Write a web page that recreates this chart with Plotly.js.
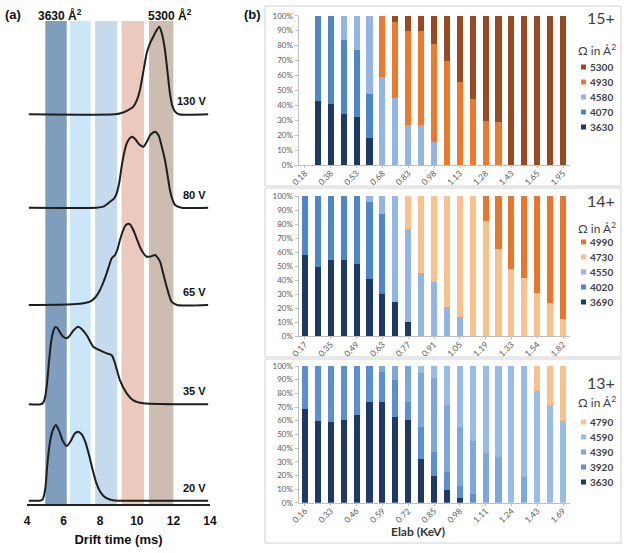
<!DOCTYPE html>
<html><head><meta charset="utf-8">
<script src="https://cdn.plot.ly/plotly-3.0.1.min.js"></script>
<style>html,body{margin:0;padding:0;background:#fff}#chart{width:624px;height:553px}</style>
</head><body><div id="chart"></div>
<script>
// ---------- Panel (a): drift-time profiles ----------
const voltages = ['20 V','35 V','65 V','80 V','130 V'];
const t20 = [4.1,4.7,4.85,5.0,5.1,5.25,5.4,5.58,5.75,5.95,6.17,6.4,6.6,6.8,7.0,7.2,7.4,7.6,7.8,8.0,8.2,8.4,8.7,9.2,13.9];
const h20 = [0,0,1,12,34,58,70,75.7,70,60,54.7,60,67,69,66,58,45,30,17,9,4.5,2,0.5,0,0];
const t35 = [4.1,4.75,4.9,5.0,5.1,5.2,5.3,5.42,5.53,5.65,5.8,5.98,6.17,6.35,6.55,6.8,7.0,7.3,7.62,7.99,8.35,8.63,8.81,9.08,9.45,9.81,10.36,13.9];
const h35 = [0,0,2,8,22,42,60,72,77,76.5,72,67.5,66,69,74,77.6,75,68,57.6,54,51,49,41,24,11,4,1,0];
const t65 = [4.1,6.2,7.0,7.44,7.75,7.99,8.2,8.35,8.5,8.63,8.81,8.95,9.08,9.22,9.36,9.5,9.63,9.81,10.0,10.17,10.35,10.54,10.75,11.0,11.15,11.27,11.45,11.63,11.9,12.2,13.9];
const h65 = [0,0.5,1.5,3.3,8,15,24,31.7,40,46.7,50,56,65,73,79,81,80.7,75,66,58,52,48.3,48.5,50,47,43.3,31,18.3,3.3,0,0];
const t80 = [4.1,7.8,8.17,8.54,8.75,8.9,9.05,9.17,9.3,9.45,9.6,9.72,9.9,10.1,10.36,10.55,10.75,11.0,11.2,11.38,11.54,11.7,11.81,11.95,12.09,12.45,13.9];
const h80 = [0,0,1,6,9,14.4,26,41,54,64.4,69,71,69,64,61,66,73,76,72,60,47.7,30,17.7,8,2.7,0,0];
const t130 = [4.1,8.8,9.2,9.5,9.81,10.0,10.17,10.35,10.54,10.72,10.9,11.05,11.23,11.38,11.54,11.68,11.81,11.95,12.09,12.3,13.9];
const h130 = [0,0,1.5,4,7.7,14,24,42,61,71,77.6,83,87.6,80,64.3,42,21,8,2.6,0,0];
const driftTimes = [t20,t35,t65,t80,t130];
const intensities = [h20,h35,h65,h80,h130];
const bandRanges = [[5.0,6.17],[6.35,7.48],[7.72,8.93],[9.17,10.39],[10.67,12.0]];
const bandLabels = ['3630 Å<sup>2</sup>','5300 Å<sup>2</sup>'];
const driftTicks = [4,6,8,10,12,14];

// ---------- Panel (b): stacked percentage bars ----------
const cat15 = ['0.18','0.28','0.38','0.45','0.53','0.60','0.68','0.75','0.83','0.90','0.98','1.05','1.13','1.20','1.28','1.35','1.43','1.54','1.65','1.80','1.95'];
const tick15 = ['0.18','0.38','0.53','0.68','0.83','0.98','1.13','1.28','1.43','1.65','1.95'];
const names15 = ['3630','4070','4580','4930','5300'];
const s15_3630 = [0,43,40.8,34,32,18,0,0,0,0,0,0,0,0,0,0,0,0,0,0,0];
const s15_4070 = [0,57,59.2,49.7,45,29.5,0,0,0,0,0,0,0,0,0,0,0,0,0,0,0];
const s15_4580 = [0,0,0,16.3,23,52.5,59,44.6,26.8,26.8,15.6,0,0,0,0,0,0,0,0,0,0];
const s15_4930 = [0,0,0,0,0,0,41,51.4,63.2,63.2,65.2,69.6,55.8,44,29.7,28.8,0,0,0,0,0];
const s15_5300 = [0,0,0,0,0,0,0,4,10,10,19.2,30.4,44.2,56,70.3,71.2,100,100,100,100,100];

const cat14 = ['0.17','0.26','0.35','0.42','0.49','0.56','0.63','0.70','0.77','0.84','0.91','0.98','1.05','1.12','1.19','1.26','1.33','1.43','1.54','1.68','1.82'];
const tick14 = ['0.17','0.35','0.49','0.63','0.77','0.91','1.05','1.19','1.33','1.54','1.82'];
const names14 = ['3690','4020','4550','4730','4990'];
const s14_3690 = [57.7,49.2,54.4,54.4,51.3,40.9,29.8,24.6,10,0,0,0,0,0,0,0,0,0,0,0,0];
const s14_4020 = [42.3,50.8,45.6,45.6,48.7,54.6,57.2,0,0,0,0,0,0,0,0,0,0,0,0,0,0];
const s14_4550 = [0,0,0,0,0,4.5,13,75.4,66.4,45.4,38.8,21,13.5,0,0,0,0,0,0,0,0];
const s14_4730 = [0,0,0,0,0,0,0,0,23.6,54.6,61.2,79,86.5,100,82.5,62.4,48.2,41.6,31.2,23.4,12.3];
const s14_4990 = [0,0,0,0,0,0,0,0,0,0,0,0,0,0,17.5,37.6,51.8,58.4,68.8,76.6,87.7];

const cat13 = ['0.16','0.25','0.33','0.40','0.46','0.52','0.59','0.65','0.72','0.78','0.85','0.91','0.98','1.05','1.11','1.17','1.24','1.33','1.43','1.56','1.69'];
const tick13 = ['0.16','0.33','0.46','0.59','0.72','0.85','0.98','1.11','1.24','1.43','1.69'];
const names13 = ['3630','3920','4390','4590','4790'];
const s13_3630 = [68.3,60,58.8,60.5,64.1,73.4,73.4,62.4,60.5,32,19.5,9.3,3.2,0,0,0,0,0,0,0,0];
const s13_3920 = [31.7,40,41.2,39.5,35.9,26.6,22.4,27.4,13.4,23.6,17.8,13.4,9,6.3,0,0,0,0,0,0,0];
const s13_4390 = [0,0,0,0,0,0,4.2,10.2,26.1,39,53.7,48.8,42.9,39.1,36.1,33.7,0,19,0,0,0];
const s13_4590 = [0,0,0,0,0,0,0,0,0,5.4,9,28.5,44.9,54.6,63.9,66.3,100,81,82,71.5,59.8];
const s13_4790 = [0,0,0,0,0,0,0,0,0,0,0,0,0,0,0,0,0,0,18,28.5,40.2];

const chargeStates = ['15+','14+','13+'];
const legendTitle = 'Ω in Å<sup>2</sup>';
const xTitle = 'Elab (KeV)';

// ---------- styles / geometry ----------
const W = 624, H = 553;
const px = x => x / W, py = y => 1 - y / H;
const curveOffsets = [3.3, 99.7, 199, 296.3, 389.7];
const bandColors = ['#7f9dbd','#cbe6f7','#c6daee','#ecc9bd','#cdbcb1'];
const colors15 = ['#1f3a62','#4f86c8','#92b5e2','#ec7a2e','#9a4a22'];
const colors14 = ['#1f3a62','#4f86c8','#92b5e2','#f9c18e','#e8772d'];
const colors13 = ['#1f3a62','#5b8fd2','#7ea7dc','#98bce6','#f9c18e'];
const fA = 'Liberation Sans, Arial, sans-serif';
const fB = 'Lato, Open Sans, sans-serif';
const gray = '#595959';

function ann(x, y, text, font, xa, ya) {
  return {xref: 'paper', yref: 'paper', x: px(x), y: py(y), text: text, showarrow: false,
    xanchor: xa || 'center', yanchor: ya || 'middle', font: font};
}

const traces = [];
for (let i = 0; i < voltages.length; i++) {
  traces.push({
    type: 'scatter', mode: 'lines', x: driftTimes[i],
    y: intensities[i].map(v => v + curveOffsets[i]),
    line: {color: '#1e1e1e', width: 2, shape: 'spline', smoothing: 0.6},
    xaxis: 'x', yaxis: 'y', showlegend: false, hoverinfo: 'skip'
  });
}
const panels = [
  {cats: cat15, series: [s15_3630,s15_4070,s15_4580,s15_4930,s15_5300], names: names15, colors: colors15, ax: '2'},
  {cats: cat14, series: [s14_3690,s14_4020,s14_4550,s14_4730,s14_4990], names: names14, colors: colors14, ax: '3'},
  {cats: cat13, series: [s13_3630,s13_3920,s13_4390,s13_4590,s13_4790], names: names13, colors: colors13, ax: '4'}
];
panels.forEach(p => {
  p.series.forEach((s, k) => {
    traces.push({type: 'bar', x: p.cats, y: s, name: p.names[k],
      marker: {color: p.colors[k], line: {width: 0}},
      xaxis: 'x' + p.ax, yaxis: 'y' + p.ax, showlegend: false});
  });
});

const shapes = [], annotations = [];
bandRanges.forEach((r, i) => shapes.push({type: 'rect', xref: 'x', yref: 'y', x0: r[0], x1: r[1], y0: 0, y1: 483,
  fillcolor: bandColors[i], line: {width: 0}, layer: 'below'}));
voltages.forEach((v, i) => annotations.push({xref: 'x', yref: 'y', x: 13.9, y: curveOffsets[i], xanchor: 'right', yanchor: 'middle',
  yshift: 13, text: v, showarrow: false, font: {family: fA, size: 11, color: '#111', weight: 'bold'}}));
const boldA = s => ({family: fA, size: s, color: '#111', weight: 'bold'});
annotations.push(ann(60, 15, bandLabels[0], boldA(12)));
annotations.push(ann(170, 15, bandLabels[1], boldA(12)));
annotations.push(ann(13, 14, '(a)', boldA(13)));
annotations.push(ann(252, 14, '(b)', boldA(13)));

// panel boxes
const boxes = [[6,186],[188,357],[359,543]];
boxes.forEach(b => shapes.push({type: 'rect', xref: 'paper', yref: 'paper', x0: px(265), x1: px(621), y0: py(b[1]), y1: py(b[0]),
  line: {color: '#d0d0d0', width: 1}, fillcolor: 'rgba(0,0,0,0)'}));

// legends
const legendPos = [{cs: 18, om: 50, it: 67}, {cs: 200, om: 228, it: 242}, {cs: 382, om: 402, it: 422}];
panels.forEach((p, j) => {
  const L = legendPos[j];
  annotations.push(ann(601, L.cs, chargeStates[j], {family: fB, size: 16, color: '#404040'}));
  annotations.push(ann(597, L.om, legendTitle, {family: fB, size: 12, color: '#404040'}));
  for (let k = p.names.length - 1, r = 0; k >= 0; k--, r++) {
    const yy = L.it + r * 15;
    shapes.push({type: 'rect', xref: 'paper', yref: 'paper', x0: px(581), x1: px(586), y0: py(yy + 2.5), y1: py(yy - 2.5),
      fillcolor: p.colors[k], line: {width: 0}});
    annotations.push(ann(588, yy, p.names[k], {family: fB, size: 10, color: '#404040', weight: 'bold'}, 'left', 'middle'));
  }
});
annotations.push(ann(418, 531, xTitle, {family: fB, size: 12, color: '#333', weight: 'bold'}));

const xdomB = [px(298.5), px(569.5)];
function barY(d, anchor) {
  return {domain: d, range: [0, 100], dtick: 10, ticksuffix: '%', showgrid: false, zeroline: false,
    showline: true, linecolor: '#bfbfbf', linewidth: 1, ticks: 'outside', ticklen: 3, tickcolor: '#bfbfbf',
    tickfont: {family: fB, size: 8, color: gray}, anchor: anchor, fixedrange: true};
}
function barX(cats, ticks, anchor) {
  return {domain: xdomB, type: 'category', categoryorder: 'array', categoryarray: cats, tickvals: ticks,
    tickangle: -45, showgrid: false, zeroline: false, showline: true, linecolor: '#bfbfbf', linewidth: 1,
    ticks: 'outside', ticklen: 2, tickcolor: '#bfbfbf', ticklabelstandoff: -3,
    tickfont: {family: fB, size: 8.5, color: gray}, anchor: anchor, fixedrange: true};
}

const layout = {
  width: W, height: H, margin: {l: 0, r: 0, t: 0, b: 0}, paper_bgcolor: '#fff', plot_bgcolor: 'rgba(0,0,0,0)',
  showlegend: false, barmode: 'stack', bargap: 0.53,
  xaxis: {domain: [px(27), px(210)], range: [4, 14], tickvals: driftTicks, showgrid: false, zeroline: false,
    showline: true, linecolor: '#222', linewidth: 1.5, ticks: '', anchor: 'y', ticklabelstandoff: 5,
    tickfont: {family: fA, size: 12, color: '#111', weight: 'bold'},
    title: {text: 'Drift time (ms)', font: {family: fA, size: 13, color: '#111', weight: 'bold'}, standoff: 8}},
  yaxis: {domain: [py(504), py(21)], range: [0, 483], visible: false, anchor: 'x'},
  xaxis2: barX(cat15, tick15, 'y2'), yaxis2: barY([py(165), py(15.7)], 'x2'),
  xaxis3: barX(cat14, tick14, 'y3'), yaxis3: barY([py(336.3), py(196)], 'x3'),
  xaxis4: barX(cat13, tick13, 'y4'), yaxis4: barY([py(502.7), py(366)], 'x4'),
  shapes: shapes, annotations: annotations
};
Plotly.newPlot('chart', traces, layout, {displayModeBar: false, staticPlot: true});
</script></body></html>
